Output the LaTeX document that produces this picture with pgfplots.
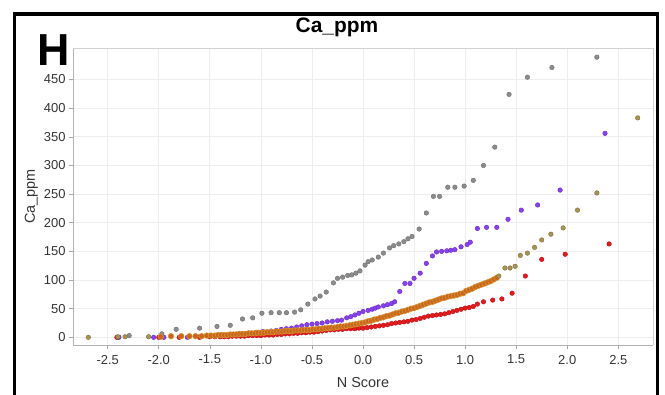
\documentclass[border=0pt]{standalone}
\usepackage{pgfplots}
\usepackage{pgfplotstable}
\pgfplotsset{compat=1.18}
\usepackage{fontspec}
\setmainfont{Liberation Sans}

\definecolor{cgray}{HTML}{8C8C8C}
\definecolor{cgrayd}{HTML}{6E6E6E}
\definecolor{cpur}{HTML}{8A3FF0}
\definecolor{cpurd}{HTML}{6530B8}
\definecolor{corg}{HTML}{C8661E}
\definecolor{corgd}{HTML}{D8922E}
\definecolor{colv}{HTML}{A89450}
\definecolor{colvd}{HTML}{7A7048}
\definecolor{cred}{HTML}{E41A1C}
\definecolor{credd}{HTML}{B51018}
\definecolor{cgrid}{HTML}{EDEDED}

\pgfplotstableread{
x y
-2.29 3
-1.97 6
-1.83 14
-1.60 16
-1.43 19
-1.30 21
-1.18 32
-1.08 34
-0.99 42
-0.90 43
-0.82 43
-0.75 43
-0.67 44
-0.61 48
-0.54 58
-0.47 67
-0.42 72
-0.36 79
-0.29 95
-0.25 103
-0.20 105
-0.15 108
-0.11 109
-0.07 112
-0.03 116
0.02 126
0.05 132
0.09 135
0.15 140
0.20 147
0.26 156
0.30 160
0.35 163
0.40 167
0.44 172
0.48 176
0.55 189
0.62 217
0.69 246
0.75 246
0.83 262
0.90 262
0.99 264
1.08 274
1.18 300
1.29 332
1.43 424
1.61 454
1.85 471
2.29 489
}\graydata

\pgfplotstableread{
x y
-2.39 0
-2.05 0
-1.95 0
-1.72 0
-1.60 1
-1.45 2
-1.35 3
-1.25 5
-1.15 6
-1.05 8
-0.98 10
-0.90 11
-0.85 12
-0.80 14
-0.75 15
-0.70 16
-0.65 18
-0.60 20
-0.55 22
-0.50 23
-0.45 24
-0.40 25
-0.35 27
-0.30 28
-0.25 29
-0.21 30
-0.16 34
-0.12 36
-0.08 39
-0.04 42
0.00 45
0.05 47
0.09 49
0.12 51
0.15 53
0.20 55
0.24 57
0.28 59
0.31 62
0.36 80
0.41 94
0.46 94
0.50 103
0.56 112
0.62 129
0.68 142
0.72 149
0.77 150
0.82 151
0.86 152
0.90 153
0.96 158
1.02 162
1.05 166
1.12 190
1.21 192
1.31 192
1.42 206
1.55 222
1.71 231
1.93 257
2.37 356
}\purdata

\pgfplotstableread{
x y
-1.98 1
-1.88 2
-1.78 2
-1.70 2
-1.64 2
-1.58 2
-1.53 3
-1.49 3
-1.45 3
-1.42 4
-1.39 4
-1.36 4
-1.33 4
-1.30 5
-1.27 5
-1.24 5
-1.21 6
-1.18 6
-1.15 6
-1.12 7
-1.09 7
-1.06 7
-1.03 8
-1.00 8
-0.97 8
-0.94 9
-0.91 9
-0.88 9
-0.85 10
-0.82 10
-0.79 10
-0.76 11
-0.73 11
-0.70 11
-0.67 12
-0.64 12
-0.61 12
-0.58 13
-0.55 13
-0.52 13
-0.49 14
-0.46 14
-0.43 15
-0.40 15
-0.37 16
-0.34 16
-0.31 17
-0.28 17
-0.25 18
-0.22 19
-0.19 19
-0.16 20
-0.13 21
-0.10 22
-0.07 23
-0.04 24
-0.01 25
0.02 26
0.05 28
0.08 29
0.11 31
0.14 32
0.17 34
0.20 35
0.23 37
0.26 38
0.29 40
0.32 42
0.35 43
0.38 45
0.41 46
0.44 48
0.47 50
0.50 51
0.53 53
0.56 55
0.59 57
0.62 59
0.65 61
0.68 62
0.71 64
0.74 66
0.77 68
0.80 69
0.83 71
0.86 72
0.89 73
0.92 74
0.95 76
0.98 77
1.01 81
1.04 83
1.07 85
1.10 88
1.13 90
1.16 92
1.19 94
1.22 96
1.25 98
1.28 101
1.31 104
}\orgdata

\pgfplotstableread{
x y
-2.69 0
-2.40 1
-2.33 1
-2.10 1
1.33 107
1.39 121
1.44 121
1.49 124
1.54 143
1.61 147
1.68 157
1.75 170
1.84 180
1.96 191
2.10 222
2.29 252
2.69 383
}\olvdata

\pgfplotstableread{
x y
-2.41 0
-2.00 0
-1.80 0
-1.60 0
-1.50 1
-1.45 1
-1.40 1
-1.36 1
-1.32 1
-1.28 2
-1.24 2
-1.20 2
-1.16 2
-1.12 3
-1.08 3
-1.04 3
-1.00 3
-0.96 4
-0.92 4
-0.88 4
-0.84 5
-0.80 5
-0.76 6
-0.72 6
-0.68 7
-0.64 7
-0.60 8
-0.56 8
-0.52 9
-0.48 9
-0.44 10
-0.40 11
-0.36 12
-0.32 13
-0.28 13
-0.24 14
-0.20 14
-0.16 15
-0.12 15
-0.08 15
-0.04 16
0.00 16
0.04 17
0.08 18
0.12 19
0.16 20
0.20 21
0.24 22
0.28 24
0.32 25
0.36 26
0.40 27
0.44 28
0.48 30
0.52 31
0.56 33
0.60 35
0.64 37
0.68 38
0.72 39
0.76 40
0.80 41
0.84 43
0.88 45
0.92 47
0.96 49
1.00 51
1.04 52
1.08 54
1.12 58
1.18 62
1.27 65
1.36 67
1.46 77
1.59 107
1.75 136
1.98 145
2.41 163
}\reddata

\begin{document}
\begin{tikzpicture}[x=1bp,y=1bp]
\path[use as bounding box] (0,0) rectangle (665,394);
\begin{axis}[
  at={(73bp,346bp)}, anchor=north west,
  scale only axis, width=580bp, height=297bp,
  xmin=-2.84, xmax=2.84, ymin=-13.4, ymax=505,
  xtick={-2.5,-2,...,2.5},
  ytick={0,50,...,450},
  /pgf/number format/assume math mode=true,
  xticklabel={\pgfmathprintnumber[fixed, fixed zerofill, precision=1]{\tick}},
  ticklabel style={font=\fontsize{13}{15}\selectfont, text=black!80},
  xticklabel style={yshift=-2.5bp},
  tick align=outside, tick style={gray!70, line width=0.6bp},
  major tick length=4bp,
  axis x line*=bottom, axis y line*=left,
  axis line style={gray!60, line width=0.8bp},
  grid=major, major grid style={cgrid, line width=0.7bp},
  xlabel={N Score}, ylabel={Ca\_ppm},
  xlabel style={font=\fontsize{14.5}{16}\selectfont, text=black!80, at={(axis description cs:0.5,-0.128)}, anchor=center},
  ylabel style={font=\fontsize{14.5}{16}\selectfont, text=black!80, at={(axis description cs:-0.072,0.5)}, anchor=center},
  clip=false,
]
\draw[gray!35, line width=0.8bp] (rel axis cs:0,1) -- (rel axis cs:1,1) -- (rel axis cs:1,0);
\addplot[only marks, mark=*, mark size=2.3bp, mark options={fill=cgray, draw=cgrayd, line width=0.4bp}] table {\graydata};
\addplot[only marks, mark=*, mark size=2.3bp, mark options={fill=cpur, draw=cpurd, line width=0.4bp}] table {\purdata};
\addplot[only marks, mark=*, mark size=2.3bp, mark options={fill=cred, draw=credd, line width=0.4bp}] table {\reddata};
\addplot[only marks, mark=*, mark size=2.8bp, mark options={fill=corg, draw=corgd, line width=0.6bp}] table {\orgdata};
\addplot[only marks, mark=*, mark size=2.3bp, mark options={fill=colv, draw=colvd, line width=0.4bp}] table {\olvdata};
\end{axis}
\node[anchor=base, inner sep=0, font=\fontsize{21}{24}\selectfont\bfseries] at (337,362) {Ca\_ppm};
\node[anchor=base west, inner sep=0, font=\fontsize{45}{50}\selectfont\bfseries] at (37.7,329) {H};
\draw[line width=3.5bp, line cap=rect] (14.5,-10) -- (14.5,380) -- (657.5,380) -- (657.5,-10);
\end{tikzpicture}
\end{document}
